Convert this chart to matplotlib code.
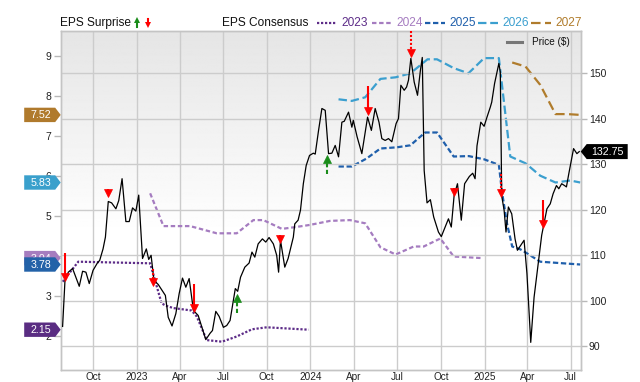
import numpy as np
import pandas as pd
import matplotlib
matplotlib.use('Agg')
import matplotlib.pyplot as plt
import matplotlib.transforms as mtransforms
from matplotlib.patches import Polygon
from matplotlib.lines import Line2D

plt.rcParams['font.family'] = ['Liberation Sans', 'DejaVu Sans']

# ---- price ($) ----
price_dates = [
    '2022-07-29', '2022-08-03', '2022-08-10', '2022-08-19', '2022-09-02', '2022-09-09', '2022-09-16',
    '2022-09-23', '2022-10-01', '2022-10-10', '2022-10-15', '2022-10-22', '2022-10-27', '2022-11-02',
    '2022-11-09', '2022-11-18', '2022-11-24', '2022-12-01', '2022-12-09', '2022-12-16', '2022-12-23',
    '2022-12-30', '2023-01-05', '2023-01-13', '2023-01-21', '2023-01-26', '2023-01-31', '2023-02-06',
    '2023-02-15', '2023-03-02', '2023-03-08', '2023-03-16', '2023-03-24', '2023-03-31', '2023-04-07',
    '2023-04-14', '2023-04-21', '2023-04-30', '2023-05-10', '2023-05-26', '2023-06-04', '2023-06-09',
    '2023-06-16', '2023-06-23', '2023-07-02', '2023-07-09', '2023-07-16', '2023-07-27', '2023-08-01',
    '2023-08-07', '2023-08-16', '2023-08-25', '2023-08-31', '2023-09-06', '2023-09-13', '2023-09-22',
    '2023-09-29', '2023-10-06', '2023-10-15', '2023-10-22', '2023-10-26', '2023-10-30', '2023-11-08',
    '2023-11-15', '2023-11-26', '2023-11-29', '2023-12-06', '2023-12-11', '2023-12-17', '2023-12-23',
    '2023-12-30', '2024-01-07', '2024-01-11', '2024-01-18', '2024-01-25', '2024-02-01', '2024-02-08',
    '2024-02-15', '2024-02-22', '2024-02-29', '2024-03-07', '2024-03-12', '2024-03-21', '2024-03-28',
    '2024-03-31', '2024-04-08', '2024-04-18', '2024-04-30', '2024-05-08', '2024-05-16', '2024-05-24',
    '2024-05-30', '2024-06-06', '2024-06-13', '2024-06-20', '2024-06-29', '2024-07-04', '2024-07-09',
    '2024-07-16', '2024-07-21', '2024-07-25', '2024-07-30', '2024-08-06', '2024-08-13', '2024-08-19',
    '2024-08-23', '2024-08-27', '2024-09-02', '2024-09-09', '2024-09-16', '2024-09-26', '2024-10-02',
    '2024-10-10', '2024-10-17', '2024-10-23', '2024-10-29', '2024-11-05', '2024-11-13', '2024-11-20',
    '2024-11-30', '2024-12-07', '2024-12-12', '2024-12-16', '2024-12-24', '2024-12-31', '2025-01-06',
    '2025-01-13', '2025-01-16', '2025-01-22', '2025-01-31', '2025-02-03', '2025-02-06', '2025-02-11',
    '2025-02-15', '2025-02-20', '2025-02-27', '2025-03-06', '2025-03-11', '2025-03-18', '2025-03-25',
    '2025-03-31', '2025-04-08', '2025-04-15', '2025-04-22', '2025-05-01', '2025-05-12', '2025-05-19',
    '2025-05-25', '2025-06-01', '2025-06-06', '2025-06-12', '2025-06-18', '2025-06-22', '2025-06-27',
    '2025-07-07', '2025-07-14', '2025-07-19']
price_values = [
    94.4, 104.5, 106.3, 107.1, 103.2, 106.5, 106.3,
    103.8, 106.7, 108.3, 108.9, 111.4, 114.0, 121.8,
    121.5, 120.2, 122.0, 126.8, 117.4, 117.4, 120.4,
    119.7, 123.2, 109.3, 111.4, 109.1, 110.0, 104.5,
    103.6, 101.2, 96.4, 94.5, 97.2, 101.6, 105.0,
    103.0, 104.9, 97.9, 96.8, 91.5, 92.9, 93.5,
    97.7, 96.6, 94.2, 94.6, 95.7, 102.7, 102.1,
    105.2, 107.4, 108.3, 110.7, 109.6, 112.5, 113.6,
    112.9, 113.9, 112.5, 110.0, 106.3, 113.3, 107.4,
    109.3, 114.0, 116.9, 117.7, 119.9, 125.7, 129.7,
    131.9, 132.4, 132.2, 137.4, 142.2, 141.8, 132.3,
    132.4, 134.1, 131.6, 139.2, 139.4, 141.4, 138.1,
    139.6, 136.0, 132.3, 140.3, 137.4, 142.2, 139.2,
    135.6, 135.2, 135.6, 134.9, 138.9, 140.0, 147.3,
    146.2, 146.9, 148.4, 153.2, 148.0, 145.1, 150.5,
    153.4, 128.6, 121.5, 122.2, 118.4, 115.1, 114.1,
    116.2, 118.0, 116.2, 123.2, 125.7, 117.7, 125.7,
    127.3, 128.0, 126.8, 134.0, 139.2, 138.3, 140.3,
    142.5, 143.6, 147.7, 152.1, 150.2, 123.0, 119.9,
    115.1, 120.6, 119.1, 113.6, 111.1, 112.2, 113.3,
    106.0, 90.9, 100.8, 106.7, 114.4, 120.2, 121.3,
    123.5, 125.3, 124.6, 125.7, 125.3, 125.0, 127.9,
    133.4, 132.3, 132.75]

# ---- EPS consensus by fiscal year ----
eps_2023_dates = ['2022-07-29', '2022-08-31', '2023-01-29', '2023-02-06', '2023-02-22', '2023-03-03',
                  '2023-03-19', '2023-04-26', '2023-05-07', '2023-05-28', '2023-06-29', '2023-07-30',
                  '2023-08-31', '2023-10-01', '2023-12-28']
eps_2023 = [3.35, 3.85, 3.81, 3.48, 2.81, 2.75, 2.69, 2.63, 2.48, 1.89, 1.85, 1.98, 2.16, 2.21, 2.15]

eps_2024_dates = ['2023-01-29', '2023-02-26', '2023-04-23', '2023-06-18', '2023-07-30', '2023-09-03',
                  '2023-09-24', '2023-11-02', '2023-12-03', '2023-12-31', '2024-02-11', '2024-03-24',
                  '2024-04-25', '2024-05-27', '2024-06-28', '2024-08-05', '2024-08-26', '2024-09-30',
                  '2024-10-28', '2024-12-27']
eps_2024 = [5.56, 4.74, 4.74, 4.56, 4.56, 4.89, 4.89, 4.67, 4.72, 4.77, 4.87, 4.89,
            4.81, 4.21, 4.03, 4.23, 4.23, 4.43, 3.98, 3.94]

eps_2025_dates = ['2024-02-29', '2024-03-28', '2024-04-28', '2024-05-27', '2024-07-01', '2024-07-29',
                  '2024-08-29', '2024-09-23', '2024-10-28', '2024-11-29', '2024-12-31', '2025-01-31',
                  '2025-02-07', '2025-02-17', '2025-02-28', '2025-03-17', '2025-03-31', '2025-04-28',
                  '2025-07-21']
eps_2025 = [6.23, 6.23, 6.43, 6.68, 6.71, 6.76, 7.08, 7.08, 6.48, 6.49, 6.41, 6.27,
            5.56, 4.81, 4.23, 4.16, 4.06, 3.85, 3.78]

eps_2026_dates = ['2024-02-29', '2024-03-28', '2024-04-25', '2024-05-27', '2024-06-28', '2024-07-29',
                  '2024-09-03', '2024-09-23', '2024-10-28', '2024-11-28', '2024-12-31', '2025-01-31',
                  '2025-02-24', '2025-03-28', '2025-04-28', '2025-05-30', '2025-06-30', '2025-07-21']
eps_2026 = [7.91, 7.87, 7.96, 8.42, 8.46, 8.56, 8.91, 8.91, 8.69, 8.56, 8.94, 8.94,
            6.48, 6.31, 6.00, 5.83, 5.88, 5.83]

eps_2027_dates = ['2025-02-28', '2025-03-28', '2025-04-28', '2025-05-30', '2025-06-24', '2025-07-21']
eps_2027 = [8.83, 8.73, 8.27, 7.54, 7.54, 7.52]

years = ['2023', '2024', '2025', '2026', '2027']
year_colors = ['#5d2c88', '#a57cc0', '#1f5fab', '#3b9fcf', '#b07c2c']
badge_colors = ['#5a2d82', '#a67dbf', '#2362a8', '#3aa0cc', '#b07a2c']
year_styles = [(0, (1, 0.8)), (0, (2, 1.2)), (0, (2.4, 1.2)), (0, (3.8, 1.7)), (0, (4.3, 2))]

# ---- earnings surprises (date, price at arrow tip, arrow tail) ----
surprise_dates = ['2022-08-03', '2022-11-01', '2023-02-05', '2023-05-01', '2023-07-31', '2023-10-29',
                  '2024-02-04', '2024-04-30', '2024-07-30', '2024-10-29', '2025-02-04', '2025-05-03']
surprise_tip = [104.5, 122.8, 103.4, 97.75, 101.4, 112.7, 131.9, 140.9, 153.5, 123.2, 122.9, 116.0]
surprise_tail = [110.4, 124.6, 107.1, 103.8, 97.3, 114.4, 127.9, 147.1, 159.2, 124.8, 127.9, 122.2]
surprise_kind = ['solid', 'solid', 'dotted', 'solid', 'dashed', 'solid',
                 'dashed', 'solid', 'dotted', 'solid', 'dotted', 'solid']

last_price = 132.75

quarter_dates = ['2022-10-01', '2023-01-01', '2023-04-01', '2023-07-01', '2023-10-01', '2024-01-01',
                 '2024-04-01', '2024-07-01', '2024-10-01', '2025-01-01', '2025-04-01', '2025-07-01']
quarter_labels = ['Oct', '2023', 'Apr', 'Jul', 'Oct', '2024', 'Apr', 'Jul', 'Oct', '2025', 'Apr', 'Jul']

W, H = 640, 382
fig = plt.figure(figsize=(W / 100, H / 100), dpi=100)
pos = [60.7 / W, 12 / H, 520 / W, 339 / H]

# background gradient
bg = fig.add_axes(pos)
t = np.linspace(0, 1, 300)
shade = np.clip(229 + 26 * t / 0.6, 0, 255) / 255
bg.imshow(np.repeat(shade[:, None], 2, axis=1), cmap='gray', vmin=0, vmax=1,
          extent=[0, 1, 0, 1], aspect='auto')
bg.axis('off')

ax = fig.add_axes(pos)
ax.patch.set_visible(False)
ax2 = ax.twinx()

todt = pd.to_datetime
eps_all = [(eps_2023_dates, eps_2023), (eps_2024_dates, eps_2024), (eps_2025_dates, eps_2025),
           (eps_2026_dates, eps_2026), (eps_2027_dates, eps_2027)]
for (d, v), c, ls in zip(eps_all, year_colors, year_styles):
    ax.plot(todt(d), v, color=c, lw=1.6, linestyle=ls)

ax2.plot(todt(price_dates), price_values, color='black', lw=0.9, zorder=3)

# surprise arrows
for d, tip, tail, kind in zip(surprise_dates, surprise_tip, surprise_tail, surprise_kind):
    up = tail < tip
    col = '#1a8c1a' if up else '#ff0000'
    dd = todt(d)
    head_len = 1.3
    end = tip - head_len if up else tip + head_len
    if abs(tail - tip) > head_len:
        ls = {'solid': '-', 'dotted': (0, (1, 0.9)), 'dashed': (0, (2, 1.2))}[kind]
        ax2.plot([dd, dd], [tail, end], color=col, lw=1.5, linestyle=ls, zorder=5,
                 solid_capstyle='butt', clip_on=False)
    off = mtransforms.offset_copy(ax2.transData, fig=fig, x=0, y=-2.6 if up else 2.6, units='points')
    ax2.plot([dd], [tip], marker='^' if up else 'v', ms=5.4, color=col, mec=col, mew=0.5,
             transform=off, zorder=6, clip_on=False)

ax.set_xlim(todt('2022-07-25'), todt('2025-07-22'))
ax.set_ylim(1.1425, 9.6175)
ax2.set_ylim(84.84, 159.2)

ax.set_yticks(range(2, 10))
ax.set_xticks(todt(quarter_dates))
ax.set_xticklabels(quarter_labels)
ax2.set_yticks(range(90, 151, 10))

ax.tick_params(axis='y', length=4.8, width=1, color='#b8b8b8', labelsize=7.5, labelcolor='#222222', pad=2)
ax.tick_params(axis='x', length=0, labelsize=7.2, labelcolor='#222222', pad=1.2)
ax2.tick_params(axis='y', length=4.3, width=1, color='#b8b8b8', labelsize=7.5, labelcolor='#222222', pad=1.5)
ax.grid(axis='x', color='#cccccc', lw=1)
ax2.grid(axis='y', color='#cccccc', lw=1)
ax.set_axisbelow(True)
ax2.set_axisbelow(True)
for sp in list(ax.spines.values()) + list(ax2.spines.values()):
    sp.set_color('#c4c4c4')
    sp.set_linewidth(1)


# value badges on both axes
def badge(axis, xa, value, text, color, side, z):
    blend = mtransforms.blended_transform_factory(axis.transAxes, axis.transData)
    trans = mtransforms.Affine2D() + mtransforms.ScaledTranslation(xa, value, blend)
    if side == 'left':
        verts = [(0, 0), (-5.5, 7.2), (-36.5, 7.2), (-36.5, -7.2), (-5.5, -7.2)]
        tx = -20
    else:
        verts = [(0, 0), (6, 7.5), (47, 7.5), (47, -7.5), (6, -7.5)]
        tx = 27
    fig.add_artist(Polygon(verts, closed=True, transform=trans, facecolor=color, edgecolor='none',
                           zorder=z))
    fig.text(tx, -0.5, text, transform=trans, ha='center', va='center', color='white', fontsize=7.7,
             zorder=z + 1)


last_vals = [eps_2023[-1], eps_2024[-1], eps_2025[-1], eps_2026[-1], eps_2027[-1]]
for k, i in enumerate([1, 0, 2, 3, 4]):
    badge(ax, 0, last_vals[i], f'{last_vals[i]:.2f}', badge_colors[i], 'left', 10 + 2 * k)
badge(ax2, 1, last_price, f'{last_price:.2f}', 'black', 'right', 30)


# top legend row
def fx(px):
    return px / W


def fy(py):
    return 1 - py / H


ly = 23
fig.text(fx(60), fy(ly), 'EPS Surprise', fontsize=8.6, color='#111111', va='center', ha='left')
fig.add_artist(Line2D([fx(137.3)] * 2, [fy(27), fy(21)], color='#1a8c1a', lw=1.5, transform=fig.transFigure))
fig.add_artist(Line2D([fx(137.3)], [fy(20.3)], marker='^', ms=5, color='#1a8c1a', mew=0, transform=fig.transFigure))
fig.add_artist(Line2D([fx(147.7)] * 2, [fy(18.5), fy(24)], color='#ff0000', lw=1.5, transform=fig.transFigure))
fig.add_artist(Line2D([fx(147.7)], [fy(25)], marker='v', ms=5, color='#ff0000', mew=0, transform=fig.transFigure))

fig.text(fx(221.7), fy(ly), 'EPS Consensus', fontsize=8.6, color='#111111', va='center', ha='left')
leg_x = [317, 372, 425, 478, 531]
for x0, yr, c, ls in zip(leg_x, years, year_colors, year_styles):
    fig.add_artist(Line2D([fx(x0), fx(x0 + 20)], [fy(ly), fy(ly)], color=c, lw=1.6, linestyle=ls,
                          transform=fig.transFigure))
    fig.text(fx(x0 + 24), fy(ly), yr, fontsize=8.6, color=c, va='center', ha='left')

fig.add_artist(Line2D([fx(506.7), fx(521.7)], [fy(42), fy(42)], color='#777777', lw=2.2,
                      transform=fig.transFigure))
fig.text(fx(532), fy(42), 'Price ($)', fontsize=7.2, color='#111111', va='center', ha='left')

fig.savefig('out.png', dpi=100)
